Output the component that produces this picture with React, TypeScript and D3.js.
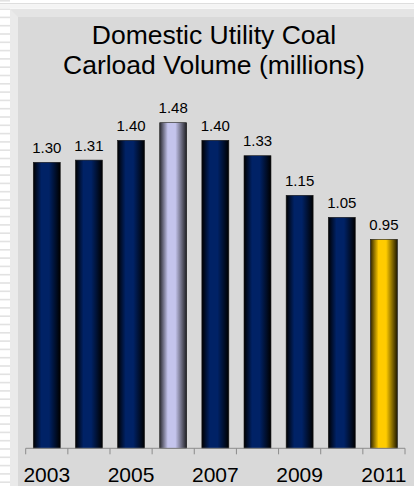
import React from "react";
import * as d3 from "d3";

const years = ["2003", "2004", "2005", "2006", "2007", "2008", "2009", "2010", "2011"];
const volumes = [1.3, 1.31, 1.4, 1.48, 1.4, 1.33, 1.15, 1.05, 0.95];
const barKinds = ["navy", "navy", "navy", "peak", "navy", "navy", "navy", "navy", "latest"];
const shownYears = ["2003", "2005", "2007", "2009", "2011"];
const titleLines = ["Domestic Utility Coal", "Carload Volume (millions)"];

const W = 414;
const H = 486;

const gradients: Record<string, { edgeL: string; mid: string; edgeR: string }> = {
  navy: { edgeL: "#000000", mid: "#002266", edgeR: "#000000" },
  peak: { edgeL: "#2a2a30", mid: "#c4c4ec", edgeR: "#1e1e22" },
  latest: { edgeL: "#2e2400", mid: "#ffcc00", edgeR: "#1e1800" },
};

export default function App() {
  const x = d3.scaleBand<string>().domain(years).range([25.7, 405]).paddingInner(0.36).paddingOuter(0.18);
  const y = d3.scaleLinear().domain([0, 1.6]).range([448.3, 96.3]);
  const baseY = y(0);
  const step = x.step();
  const x0 = x.range()[0];
  const tickXs = d3.range(years.length + 1).map((i) => x0 + i * step);
  const stripes = d3.range(0, H, 8.3);
  const font = "'Liberation Sans', Arial, sans-serif";

  return (
    <div style={{ position: "fixed", left: 0, top: 0 }}>
      <svg width={W} height={H} style={{ display: "block" }}>
        <defs>
          {Object.entries(gradients).map(([k, g]) => (
            <linearGradient key={k} id={`bar-${k}`} x1="0" x2="1" y1="0" y2="0">
              <stop offset="0" stopColor={g.edgeL} />
              <stop offset="0.3" stopColor={g.mid} />
              <stop offset="0.58" stopColor={g.mid} />
              <stop offset="1" stopColor={g.edgeR} />
            </linearGradient>
          ))}
        </defs>
        <rect x={0} y={0} width={W} height={H} fill="#ffffff" />
        {/* striped margin on the left */}
        {stripes.map((s, i) => (
          <rect key={i} x={0} y={s} width={10} height={1.6} fill="#e2e2e2" />
        ))}
        <rect x={0} y={3} width={W} height={1.2} fill="#dedede" />
        <rect x={0} y={4.2} width={W} height={4.5} fill="#f4f4f4" />
        {/* bevelled panel */}
        <rect x={10} y={9} width={W - 10} height={H - 9} fill="#e4e4e4" />
        <polygon points={`10,9 18,17 18,${H} 10,${H}`} fill="#eaeaea" />
        <rect x={18} y={17} width={W - 18} height={H - 17} fill="#d9d9d9" />

        {titleLines.map((t, i) => (
          <text
            key={t}
            x={214}
            y={44 + i * 30}
            textAnchor="middle"
            fontFamily={font}
            fontSize={26.5}
            fill="#000"
          >
            {t}
          </text>
        ))}

        {years.map((yr, i) => {
          const v = volumes[i];
          const bx = x(yr) as number;
          const top = y(v);
          return (
            <g key={yr}>
              <rect
                x={bx}
                y={top}
                width={x.bandwidth()}
                height={baseY - top}
                fill={`url(#bar-${barKinds[i]})`}
                stroke="#1a1a1a"
                strokeWidth={0.6}
              />
              <text
                x={bx + x.bandwidth() / 2}
                y={top - 9.6}
                textAnchor="middle"
                fontFamily={font}
                fontSize={15}
                fill="#000"
              >
                {v.toFixed(2)}
              </text>
            </g>
          );
        })}

        <line x1={x0} x2={tickXs[tickXs.length - 1]} y1={baseY} y2={baseY} stroke="#8c8c8c" strokeWidth={1} />
        {tickXs.map((tx, i) => (
          <line key={i} x1={tx} x2={tx} y1={baseY} y2={baseY + 6} stroke="#8c8c8c" strokeWidth={1} />
        ))}
        {shownYears.map((yr) => (
          <text
            key={yr}
            x={(x(yr) as number) + x.bandwidth() / 2}
            y={481.5}
            textAnchor="middle"
            fontFamily={font}
            fontSize={21}
            fill="#000"
          >
            {yr}
          </text>
        ))}
      </svg>
    </div>
  );
}
